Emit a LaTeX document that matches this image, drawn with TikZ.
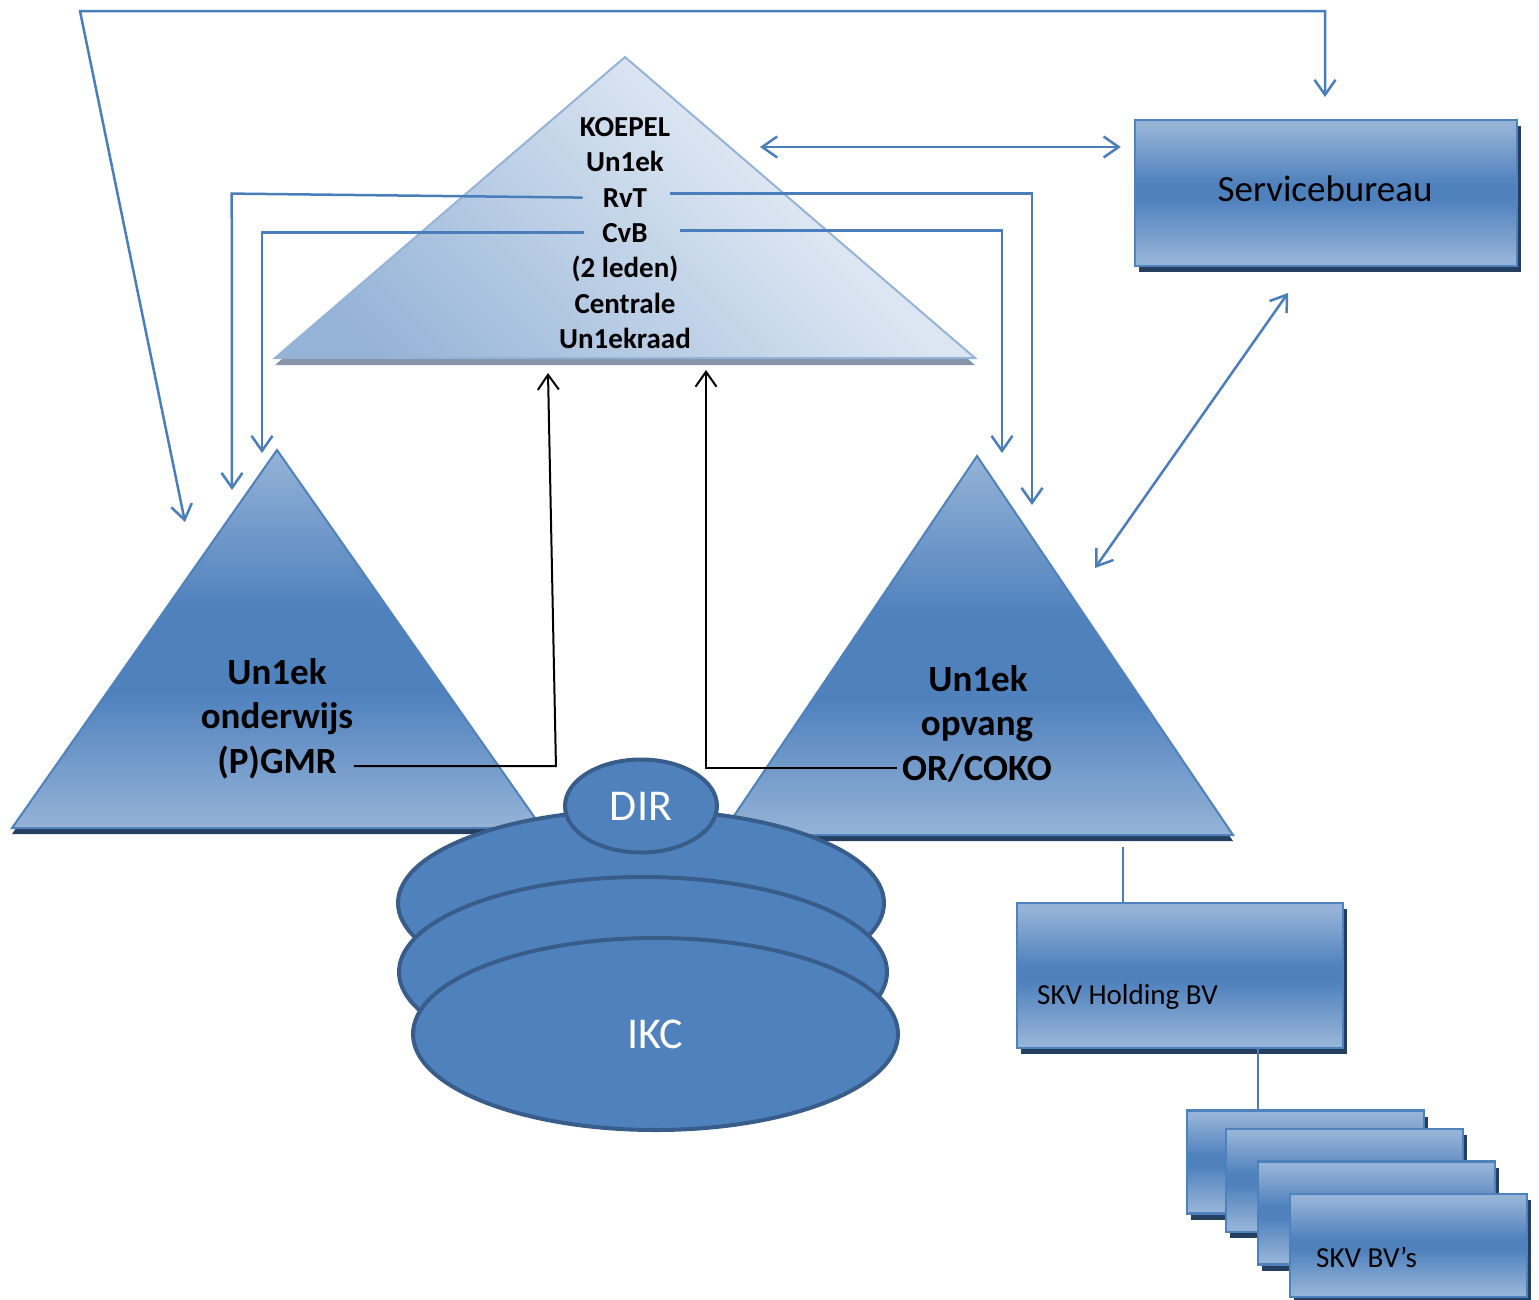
\documentclass[tikz,border=0pt]{standalone}
\usepackage{fontspec}
\setmainfont{Carlito}
\usepackage{tikz}
\usetikzlibrary{arrows.meta,shadows,shapes.geometric}
\definecolor{offblue}{RGB}{79,129,189}
\definecolor{offlight}{RGB}{149,179,215}
\definecolor{offline}{RGB}{74,126,187}
\definecolor{offedge}{RGB}{56,93,138}
\definecolor{offnavy}{RGB}{36,63,96}
\definecolor{kplight}{RGB}{220,230,242}
\definecolor{kpshadow}{RGB}{135,148,168}
\pgfdeclareverticalshading{officebar}{100bp}{color(0bp)=(offlight); color(27bp)=(offlight); color(48bp)=(offblue); color(53bp)=(offblue); color(73bp)=(offlight); color(100bp)=(offlight)}
\pgfdeclareverticalshading{officetri}{100bp}{color(0bp)=(offlight); color(25bp)=(offlight); color(43bp)=(offblue); color(54bp)=(offblue); color(75bp)=(offlight); color(100bp)=(offlight)}
\pgfdeclarehorizontalshading{officekoepel}{100bp}{color(0bp)=(offlight); color(22bp)=(offlight); color(62bp)=(kplight); color(100bp)=(kplight)}

\begin{document}
\begin{tikzpicture}[x=1pt, y=-1pt, >={Straight Barb[length=15pt,width=21pt]},
  kptext/.style={font=\fontsize{29}{35}\selectfont\bfseries, inner sep=0pt, anchor=base},
  tritext/.style={font=\fontsize{37}{44}\selectfont\bfseries, inner sep=0pt, anchor=base},
  boxtext/.style={font=\fontsize{29}{35}\selectfont, inner sep=0pt, anchor=base west},
  offbox/.style={rectangle, draw=offblue, line width=2.5pt, shade, shading=officebar, inner sep=0pt,
    drop shadow={shadow xshift=4pt, shadow yshift=-6pt, fill=offnavy, opacity=1}},
  disc/.style={ellipse, fill=offblue, draw=offedge, line width=4pt, inner sep=0pt, text=white,
    font=\fontsize{44}{52}\selectfont},
  link/.style={draw=offline, line width=2.5pt},
  thinlink/.style={draw=offline, line width=2pt},
  blk/.style={draw=black, line width=2pt}]
\useasboundingbox (0,0) rectangle (1539,1299);

% Koepel pyramid
\fill[kpshadow, shift={(0,7)}] (625,57) -- (275,358) -- (975,358) -- cycle;
\shade[shading=officekoepel, shading angle=45, draw=offlight, line width=2pt]
  (625,57) -- (275,358) -- (975,358) -- cycle;

% onderwijs and opvang
\fill[offnavy, shift={(0,6)}] (277,450) -- (12,828) -- (542,828) -- cycle;
\shade[shading=officetri, draw=offblue, line width=2pt] (277,450) -- (12,828) -- (542,828) -- cycle;
\fill[offnavy, shift={(0,6)}] (977,456) -- (721,835) -- (1233,835) -- cycle;
\shade[shading=officetri, draw=offblue, line width=2pt] (977,456) -- (721,835) -- (1233,835) -- cycle;

% IKC stack
\node[disc, minimum width=486pt, minimum height=186pt] (ikcTop) at (641,903) {};
\node[disc, minimum width=152pt, minimum height=93pt] (dir) at (641,806) {DIR};
\node[disc, minimum width=488pt, minimum height=190pt] (ikcMid) at (643,972) {};
\node[disc, minimum width=485pt, minimum height=192pt] (ikc) at (655.5,1034) {IKC};

% Boxes
\node[offbox, minimum width=382pt, minimum height=146pt] (sb) at (1326,193) {};
\node[font=\fontsize{37}{44}\selectfont, inner sep=0pt] (sbtxt) at (1325,189) {Servicebureau};
\node[offbox, minimum width=326pt, minimum height=145pt] (hold) at (1180,975.5) {};
\node[boxtext] (holdtxt) at (1037,1004) {SKV Holding BV};
\foreach \n/\cx/\cy in {1/1305.5/1162, 2/1344.5/1180.5, 3/1376.5/1213, 4/1408.5/1245.5}
  \node[offbox, minimum width=237pt, minimum height=103pt] (bv\n) at (\cx,\cy) {};
\node[boxtext] (bvtxt) at (1316,1267) {SKV BV’s};

% Texts
\node[kptext] (koepel) at (625,136) {KOEPEL};
\node[kptext] (unek) at (625,171) {Un1ek};
\node[kptext] (rvt) at (625,207) {RvT};
\node[kptext] (cvb) at (625,242) {CvB};
\node[kptext] (leden) at (625,277) {(2 leden)};
\node[kptext] (centrale) at (625,313) {Centrale};
\node[kptext] (raad) at (625,348) {Un1ekraad};

\node[tritext] (ondA) at (277,684) {Un1ek};
\node[tritext] (ondB) at (277,728.5) {onderwijs};
\node[tritext] (ondC) at (277,773) {(P)GMR};
\node[tritext] (opvA) at (978,691) {Un1ek};
\node[tritext] (opvB) at (977,735.5) {opvang};
\node[tritext] (opvC) at (977,780) {OR/COKO};

% Arrow ends
\coordinate (loopCorner) at (80,11);
\coordinate (ondTop) at (185,522);
\coordinate (sbTop) at (1325,97);
\coordinate (kpSide) at (760,147);
\coordinate (sbLow) at (1288,293);
\coordinate (opvSide) at (1095,568);
\coordinate (rvtL) at (232,490);
\coordinate (cvbL) at (262,453);
\coordinate (rvtR) at (1032,505);
\coordinate (cvbR) at (1002,453);
\coordinate (kpInL) at (548,373);
\coordinate (kpInR) at (706,370);
\coordinate (opvFoot) at (1123,847);

% Connectors
\draw[link,<->] (ondTop) -- (loopCorner) -| (sbTop);
\draw[link,<->,shorten >=13pt] (kpSide) -- (kpSide -| sb.west);
\draw[link,<->] (sbLow) -- (opvSide);
\draw[link,->] ([xshift=-20pt]rvt.west) -- ++(-351,-4) -- (rvtL);
\draw[link,->] ([xshift=23pt,yshift=4pt]rvt.east) -| (rvtR);
\draw[link,->] ([xshift=-18pt]cvb.west) -| (cvbL);
\draw[link,->] ([xshift=32pt,yshift=2pt]cvb.east) -| (cvbR);
\draw[blk,->] ([xshift=17pt,yshift=-4pt]ondC.east) -- ++(202,0) -- (kpInL);
\draw[blk,->] ([xshift=-5pt]opvC.west) -| (kpInR);
\draw[thinlink] (opvFoot) -- (opvFoot |- hold.north);
\draw[thinlink] ([xshift=78pt]hold.south) -- ([xshift=78pt]hold.south |- bv1.north);
\end{tikzpicture}
\end{document}
